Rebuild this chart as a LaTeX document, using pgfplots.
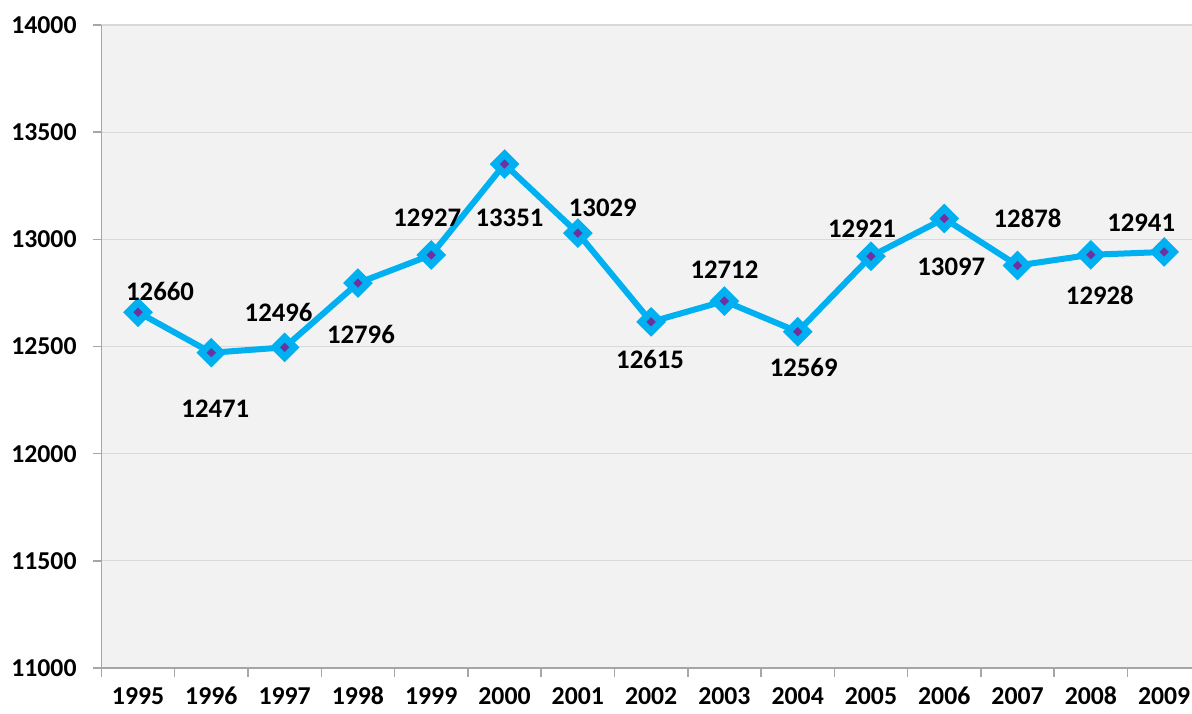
\documentclass[border=0pt]{standalone}
\usepackage{fontspec}
\setmainfont{Carlito}
\usepackage{pgfplots}
\usepackage{pgfplotstable}
\pgfplotsset{compat=1.18}
\definecolor{linecyan}{HTML}{00B0F0}
\definecolor{dotpurple}{HTML}{7030A0}
\definecolor{bggray}{HTML}{F2F2F2}
\definecolor{gridgray}{HTML}{D9D9D9}
\definecolor{axgray}{HTML}{A6A6A6}

% x = category index (1995 = 0), dx/dy = label offset in pt
\pgfplotstableread{
x  y      dx    dy
0  12660  8.8   8.4
1  12471  1.6   -22.4
2  12496  -2.4  14
3  12796  1.2   -20.4
4  12927  -1.6  14.8
5  13351  2     -21.6
6  13029  10    10
7  12615  -0.4  -15.2
8  12712  0     12.4
9  12569  2.4   -14.4
10 12921  -3.6  11.2
11 13097  2.8   -19.2
12 12878  4     18.8
13 12928  3.6   -16.4
14 12941  -9.2  11.6
}\datatable

\begin{document}
\begin{tikzpicture}
\begin{axis}[
  name=ax,
  scale only axis,
  width=436.2pt, height=257.2pt,
  xmin=-0.5, xmax=14.38,
  ymin=11000, ymax=14000,
  axis background/.style={fill=bggray},
  axis x line*=bottom, axis y line*=left,
  axis line style={draw=axgray, line width=0.7pt},
  xtick={0,...,14},
  xticklabels={1995,1996,1997,1998,1999,2000,2001,2002,2003,2004,2005,2006,2007,2008,2009},
  minor xtick={-0.5,0.5,...,13.5},
  ytick={11000,11500,...,14000},
  scaled y ticks=false,
  tick align=outside,
  major x tick style={draw=none},
  major tick length=3.4pt,
  minor tick length=3.4pt,
  every tick/.style={draw=axgray, line width=0.6pt},
  ymajorgrids,
  grid style={draw=gridgray, line width=0.5pt},
  tick label style={font=\fontsize{10.3}{12}\selectfont\bfseries},
  /pgf/number format/assume math mode=true,
  /pgf/number format/1000 sep={},
  xticklabel style={anchor=north, text height=7pt, text depth=0pt, yshift=-0.5pt},
  yticklabel style={xshift=-3pt},
  clip=false,
]
\addplot[linecyan, line width=2.4pt, mark=square*,
  mark options={fill=linecyan, draw=linecyan, line width=1.2pt, rotate=45}, mark size=3.6pt,
  nodes near coords,
  point meta=explicit symbolic,
  visualization depends on={\thisrow{dx} \as \dx},
  visualization depends on={\thisrow{dy} \as \dy},
  every node near coord/.style={anchor=center, xshift=\dx pt, yshift=\dy pt,
    font=\fontsize{10.7}{12}\selectfont\bfseries, text=black},
] table[x=x, y=y, meta=y] {\datatable};
\addplot[only marks, mark=square*, mark size=1.2pt,
  mark options={fill=dotpurple, draw=dotpurple, line width=0.2pt, rotate=45}] table[x=x, y=y] {\datatable};
\end{axis}
\pgfresetboundingbox
\path[use as bounding box] ([xshift=-40.56pt,yshift=-18pt]ax.south west) rectangle ([yshift=10pt]ax.north east);
\end{tikzpicture}
\end{document}
